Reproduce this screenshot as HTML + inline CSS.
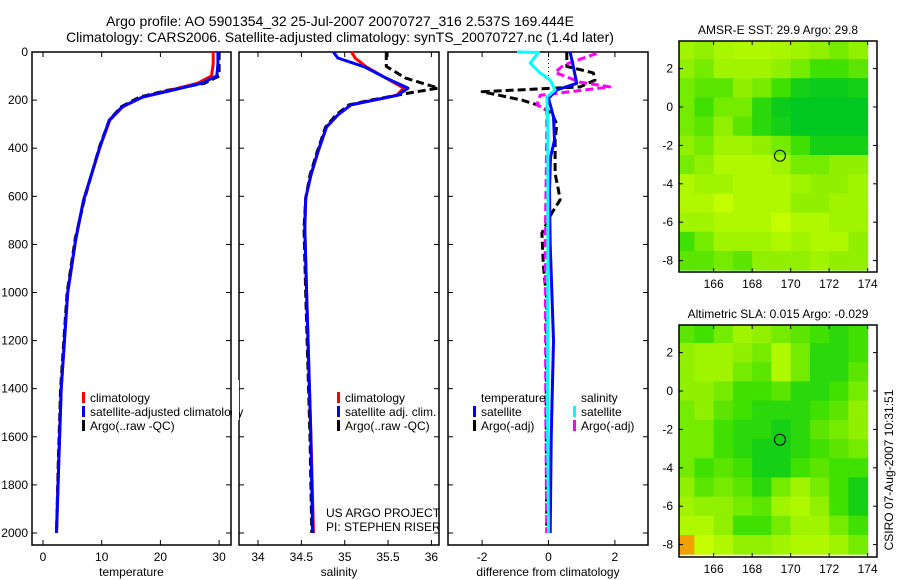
<!DOCTYPE html>
<html><head><meta charset="utf-8"><style>
body{margin:0;background:#fff}
svg{display:block;font-family:"Liberation Sans",sans-serif}
</style></head><body>
<svg id="c" width="900" height="580" viewBox="0 0 900 580">
<rect width="900" height="580" fill="#fff"/>
<text x="340" y="26" font-size="14" text-anchor="middle">Argo profile: AO 5901354_32 25-Jul-2007 20070727_316 2.537S 169.444E</text>
<text x="340" y="42" font-size="14" text-anchor="middle">Climatology: CARS2006. Satellite-adjusted climatology: synTS_20070727.nc (1.4d later)</text>
<g id="g"></g>
</svg>
<script>
// ---------- data ----------
const depthTicks=[0,200,400,600,800,1000,1200,1400,1600,1800,2000];
const tempTicks=[0,10,20,30];
const salTicks=[34,34.5,35,35.5,36];
const diffTicks=[-2,0,2];
const lonTicks=[166,168,170,172,174];
const latTicks=[2,0,-2,-4,-6,-8];

const tDepth=[0,50,100,130,160,187,228,283,395,617,775,1000,1400,1700,2000];
const tClim=[29.0,29.0,28.7,26.3,21.5,17.0,13.6,11.4,9.7,6.9,5.6,4.2,3.1,2.7,2.3];
const tSat=[29.8,29.8,29.6,27.0,21.8,17.0,13.5,11.3,9.7,6.9,5.6,4.2,3.1,2.7,2.3];
const tArgo=[30.0,30.0,30.0,27.5,21.0,16.5,13.3,11.3,9.6,7.0,5.5,4.1,3.0,2.6,2.3];

const sDepth=[0,25,62,105,150,180,220,262,312,417,512,608,733,1000,1600,2000];
const sClim=[35.08,35.12,35.25,35.46,35.68,35.6,35.07,34.92,34.79,34.69,34.61,34.55,34.54,34.56,34.61,34.64];
const sSat=[34.87,34.92,35.23,35.46,35.73,35.61,35.07,34.92,34.79,34.69,34.61,34.55,34.54,34.56,34.61,34.63];
const sArgoD=[0,60,108,150,170,200,220,262,312,417,512,608,733,1000,1600,2000];
const sArgo=[35.48,35.48,35.7,36.08,35.75,35.3,35.05,34.9,34.78,34.68,34.6,34.55,34.53,34.55,34.6,34.62];

const dTD=[0,62,130,158,192,270,367,437,575,800,1200,1600,2000];
const dTSat=[0.65,0.75,0.85,0.25,0.0,0.15,0.18,0.06,0.03,0.05,0.15,0.08,0.05];
const dTAD=[0,60,87,117,145,165,200,220,255,300,367,437,505,575,615,670,753,893,1033,1500,2000];
const dTArgo=[0.55,0.55,1.35,1.4,0.95,-2.0,-0.8,-0.33,0.1,0.25,0.2,0.2,0.2,0.3,0.35,0.1,-0.2,-0.15,-0.05,-0.07,-0.05];
const dSD=[0,2,46,87,117,158,187,300,800,1500,2000];
const dSSat=[-0.95,-0.3,-0.55,-0.25,0.05,0.2,-0.05,-0.02,-0.02,-0.03,0.0];
const dSAD=[6,55,85,125,145,180,220,240,333,800,1500,2000];
const dSArgo=[1.45,0.45,0.2,0.95,1.85,-0.25,-0.35,-0.05,-0.05,-0.1,-0.08,-0.05];

const mapLons=[164.5,165.5,166.5,167.5,168.5,169.5,170.5,171.5,172.5,173.5];
const mapLats=[3,2,1,0,-1,-2,-3,-4,-5,-6,-7,-8];
const sstGrid=[
[.7,.6,.75,.8,.8,.75,.7,.6,.5,.6],
[.6,.5,.7,.7,.7,.6,.5,.3,.3,.4],
[.5,.4,.4,.6,.5,.3,.1,.05,.05,.1],
[.5,.3,.5,.5,.2,.05,0,0,0,0],
[.5,.4,.6,.4,.2,.1,0,0,0,0],
[.6,.5,.7,.7,.6,.5,.3,.1,.1,.1],
[.5,.6,.8,.8,.8,.7,.5,.5,.6,.6],
[.8,.7,.7,.8,.8,.8,.7,.6,.6,.7],
[.8,.8,.9,.8,.8,.8,.6,.6,.7,.7],
[.7,.7,.8,.8,.8,.9,.8,.8,.7,.7],
[.3,.5,.7,.7,.7,.8,.7,.8,.8,.6],
[.4,.4,.5,.4,.6,.6,.6,.7,.6,.6]];
const slaGrid=[
[.4,.3,.5,.7,.6,.5,.4,.3,.2,.3],
[.6,.7,.7,.6,.5,.8,.5,.2,.2,.3],
[.6,.7,.7,.5,.4,.8,.5,.2,.2,.4],
[.6,.6,.5,.3,.3,.4,.2,.2,.3,.5],
[.5,.6,.4,.3,.2,.2,.2,.3,.4,.6],
[.5,.5,.3,.2,.2,.1,.2,.4,.5,.6],
[.5,.5,.3,.2,.1,.1,.2,.3,.4,.5],
[.5,.3,.4,.3,.1,.1,.3,.4,.3,.3],
[.6,.4,.5,.4,.2,.5,.7,.5,.3,.1],
[.7,.6,.6,.5,.4,.7,.8,.6,.3,.1],
[.8,.8,.6,.3,.3,.5,.7,.7,.5,.3],
[1.2,.9,.8,.6,.6,.7,.8,.8,.7,.5]];
const floatLon=169.444, floatLat=-2.537;

// ---------- drawing ----------
const NS="http://www.w3.org/2000/svg";
const G=document.getElementById('g');
function mk(tag,at,parent){const e=document.createElementNS(NS,tag);for(const k in at)e.setAttribute(k,at[k]);(parent||G).appendChild(e);return e;}
const dy=d=>52+d*0.2405;
const TOP=52,BOT=545;

function panel(name,x0,x1,xs,ticks,label,showY){
  const f=mk('rect',{x:x0,y:TOP,width:x1-x0,height:BOT-TOP,fill:'none',stroke:'#000','stroke-width':1.5});
  
  
  ticks.forEach(t=>{const x=xs(t);
    mk('line',{x1:x,x2:x,y1:BOT,y2:BOT-5,stroke:'#000'});mk('line',{x1:x,x2:x,y1:TOP,y2:TOP+5,stroke:'#000'});
    const tx=mk('text',{x:x,y:BOT+16,'font-size':12,'text-anchor':'middle'});tx.textContent=String(t);
    
    });
  depthTicks.forEach(d=>{const y=dy(d);
    mk('line',{x1:x0,x2:x0+5,y1:y,y2:y,stroke:'#000'});mk('line',{x1:x1,x2:x1-5,y1:y,y2:y,stroke:'#000'});
    if(showY){const tx=mk('text',{x:x0-4,y:y+4,'font-size':12,'text-anchor':'end'});tx.textContent=d;
      
      }});
  const l=mk('text',{x:(x0+x1)/2,y:576,'font-size':12,'text-anchor':'middle'});l.textContent=label;
  
  
}
function line(xs,vals,deps,color,dash,w,name){
  const pts=vals.map((v,i)=>xs(v).toFixed(1)+','+dy(deps[i]).toFixed(1)).join(' ');
  const p=mk('polyline',{points:pts,fill:'none',stroke:color,'stroke-width':w||3,'stroke-dasharray':dash||'none','stroke-linejoin':'round'});
  
  
}
function legend(x,y,color,txt,name){
  mk('rect',{x:x,y:y-5,width:3,height:11,fill:color});
  const t=mk('text',{x:x+8,y:y+5,'font-size':12});t.textContent=txt;
  
  
}
// temperature
const xt0=v=>43+v*5.87;
panel('temperature-panel',32,231,xt0,tempTicks,'temperature',true);
line(xt0,tArgo,tDepth,'#000','8 4',3,'temp-argo-line');
line(xt0,tClim,tDepth,'#f00','',3,'temp-climatology-line');
line(xt0,tSat,tDepth,'#00f','',3,'temp-satellite-line');
legend(82,397,'#f00','climatology','legend-climatology');
legend(82,411,'#00f','satellite-adjusted climatology','legend-satellite-adjusted');
legend(82,425,'#000','Argo(..raw -QC)','legend-argo');
// salinity
const xs2=v=>258+(v-34)*86.7;
panel('salinity-panel',239,439,xs2,salTicks,'salinity',false);
mk('rect',{x:232,y:380,width:7,height:40,fill:'#fff'});
line(xs2,sArgo,sArgoD,'#000','8 4',3,'sal-argo-line');
line(xs2,sClim,sDepth,'#f00','',3,'sal-climatology-line');
line(xs2,sSat,sDepth,'#00f','',3,'sal-satellite-line');
legend(337,397,'#f00','climatology','legend-sal-climatology');
legend(337,411,'#00f','satellite adj. clim.','legend-sal-satellite');
legend(337,425,'#000','Argo(..raw -QC)','legend-sal-argo');
let t1=mk('text',{x:326,y:517,'font-size':12});t1.textContent='US ARGO PROJECT';


let t2=mk('text',{x:326,y:531,'font-size':12});t2.textContent='PI: STEPHEN RISER';


// difference
const xd=v=>548.5+v*33.2;
panel('difference-panel',448,648,xd,diffTicks,'difference from climatology',false);
mk('line',{x1:548.5,x2:548.5,y1:55,y2:80,stroke:'#000','stroke-dasharray':'1 3'});
line(xd,dTArgo,dTAD,'#000','8 4',3,'diff-temp-argo-line');
line(xd,dSArgo,dSAD,'#f0f','8 4',3,'diff-sal-argo-line');
line(xd,dTSat,dTD,'#00f','',3,'diff-temp-satellite-line');
line(xd,dSSat,dSD,'#0ff','',3,'diff-sal-satellite-line');
let th=mk('text',{x:481,y:402,'font-size':12});th.textContent='temperature';


let sh=mk('text',{x:581,y:402,'font-size':12});sh.textContent='salinity';


legend(473,411,'#00f','satellite','legend-diff-temp-satellite');
legend(473,425,'#000','Argo(-adj)','legend-diff-temp-argo');
legend(573,411,'#0ff','satellite','legend-diff-sal-satellite');
legend(573,425,'#f0f','Argo(-adj)','legend-diff-sal-argo');

// maps
function col(v){
  const stops=[[0,[0,200,32]],[0.3,[64,224,0]],[0.6,[144,240,0]],[0.8,[176,248,0]],[1,[216,255,0]],[1.2,[240,160,0]]];
  for(let i=1;i<stops.length;i++){if(v<=stops[i][0]){const a=stops[i-1],b=stops[i];const f=(v-a[0])/(b[0]-a[0]);
    return 'rgb('+a[1].map((c,j)=>Math.round(c+(b[1][j]-c)*f)).join(',')+')';}}
  return 'rgb(240,160,0)';
}
function map(name,y0,top,bot,grid,title){
  const mx=l=>679+(l-164.2)*19.25, my=la=>y0-la*19.2;
  const clip=mk('clipPath',{id:'clip'+name});mk('rect',{x:679,y:top,width:198,height:bot-top},clip);
  const g=mk('g',{'clip-path':'url(#clip'+name+')'});
  
  
  grid.forEach((row,i)=>row.forEach((v,j)=>{
    mk('rect',{x:mx(mapLons[j]-0.5),y:my(mapLats[i]+0.5),width:19.8,height:19.7,fill:col(v)},g);}));
  mk('rect',{x:679,y:top,width:198,height:bot-top,fill:'none',stroke:'#000','stroke-width':1.5});
  const c=mk('circle',{cx:mx(floatLon),cy:my(floatLat),r:5.5,fill:'none',stroke:'#000'});
  
  
  lonTicks.forEach(l=>{const x=mx(l);mk('line',{x1:x,x2:x,y1:bot,y2:bot-4,stroke:'#000'});mk('line',{x1:x,x2:x,y1:top,y2:top+4,stroke:'#000'});
    const t=mk('text',{x:x,y:bot+16,'font-size':12,'text-anchor':'middle'});t.textContent=l;
    
    });
  latTicks.forEach(la=>{const y=my(la);mk('line',{x1:679,x2:683,y1:y,y2:y,stroke:'#000'});mk('line',{x1:877,x2:873,y1:y,y2:y,stroke:'#000'});
    const t=mk('text',{x:673,y:y+4,'font-size':12,'text-anchor':'end'});t.textContent=la;
    
    });
  const t=mk('text',{x:778,y:top-7,'font-size':12,'text-anchor':'middle'});t.textContent=title;
  
  
}
map('sst-map',107,41,272,sstGrid,'AMSR-E SST: 29.9 Argo: 29.8');
map('sla-map',391,325,557,slaGrid,'Altimetric SLA: 0.015 Argo: -0.029');
const cs=mk('text',{x:0,y:0,'font-size':12,'text-anchor':'middle',transform:'translate(893,470) rotate(-90)'});
cs.textContent='CSIRO 07-Aug-2007 10:31:51';


</script>
</body></html>
